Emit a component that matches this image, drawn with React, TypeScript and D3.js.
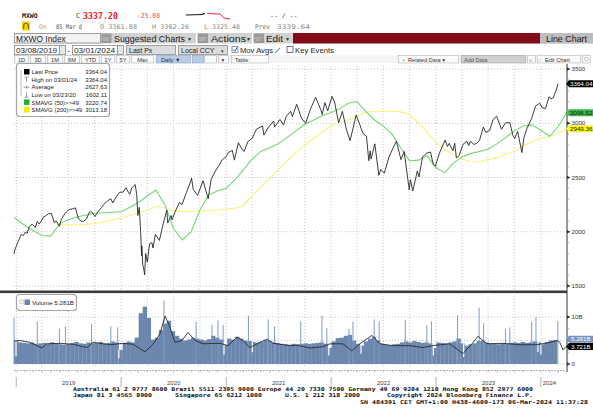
import React from 'react';
import * as d3 from 'd3';

const parse = d3.timeParse('%Y-%m-%d');
const P = (s: string) => parse(s) as Date;

const priceSeries: [string, number][] = [
['2018-12-24',1795],['2018-12-27',1835],['2019-01-03',1880],['2019-01-10',1925],['2019-01-18',1975],['2019-01-25',1965],['2019-02-01',1995],['2019-02-08',1985],['2019-02-15',2045],['2019-02-25',2070],['2019-03-08',2040],['2019-03-15',2095],['2019-03-22',2070],['2019-03-29',2100],['2019-04-05',2135],['2019-04-12',2145],['2019-04-23',2165],['2019-05-03',2170],['2019-05-13',2085],['2019-05-20',2100],['2019-05-31',2050],['2019-06-07',2115],['2019-06-20',2170],['2019-07-03',2205],['2019-07-15',2210],['2019-07-26',2220],['2019-08-05',2120],['2019-08-14',2100],['2019-08-23',2095],['2019-09-03',2120],['2019-09-12',2180],['2019-09-20',2185],['2019-10-02',2140],['2019-10-11',2180],['2019-10-25',2225],['2019-11-04',2260],['2019-11-15',2285],['2019-11-26',2305],['2019-12-03',2265],['2019-12-13',2315],['2019-12-27',2365],['2020-01-08',2365],['2020-01-17',2405],['2020-01-31',2345],['2020-02-07',2405],['2020-02-19',2435],['2020-02-24',2345],['2020-02-28',2150],['2020-03-04',2225],['2020-03-09',1995],['2020-03-12',1780],['2020-03-13',1870],['2020-03-16',1700],['2020-03-18',1680],['2020-03-20',1650],['2020-03-23',1602],['2020-03-26',1800],['2020-04-01',1720],['2020-04-09',1890],['2020-04-17',1900],['2020-04-21',1850],['2020-04-29',1975],['2020-05-13',1920],['2020-05-27',2080],['2020-06-08',2200],['2020-06-11',2080],['2020-06-23',2150],['2020-06-26',2110],['2020-07-08',2190],['2020-07-22',2270],['2020-07-31',2250],['2020-08-12',2340],['2020-08-31',2470],['2020-09-02',2495],['2020-09-08',2390],['2020-09-23',2335],['2020-10-12',2470],['2020-10-30',2305],['2020-11-09',2480],['2020-11-24',2560],['2020-12-04',2600],['2020-12-18',2665],['2020-12-31',2690],['2021-01-08',2730],['2021-01-22',2750],['2021-01-29',2660],['2021-02-12',2820],['2021-02-25',2760],['2021-03-04',2740],['2021-03-17',2830],['2021-04-01',2860],['2021-04-16',2945],['2021-05-07',2975],['2021-05-12',2890],['2021-05-28',2965],['2021-06-15',3020],['2021-06-18',2965],['2021-07-07',3035],['2021-07-19',2985],['2021-07-29',3065],['2021-08-13',3110],['2021-08-19',3060],['2021-09-03',3175],['2021-09-20',3045],['2021-10-04',3000],['2021-10-21',3130],['2021-11-08',3240],['2021-11-26',3125],['2021-12-01',3080],['2021-12-10',3190],['2021-12-20',3115],['2022-01-04',3248],['2022-01-13',3195],['2022-01-27',3005],['2022-02-09',3110],['2022-02-23',2945],['2022-03-08',2840],['2022-03-29',3075],['2022-04-11',2985],['2022-04-22',2905],['2022-05-04',2880],['2022-05-12',2655],['2022-05-17',2745],['2022-05-20',2670],['2022-06-02',2810],['2022-06-16',2520],['2022-06-23',2575],['2022-07-05',2540],['2022-07-22',2695],['2022-08-16',2835],['2022-09-01',2665],['2022-09-12',2740],['2022-09-30',2385],['2022-10-04',2480],['2022-10-12',2375],['2022-10-28',2560],['2022-11-03',2505],['2022-11-15',2690],['2022-11-30',2725],['2022-12-13',2735],['2022-12-22',2625],['2022-12-30',2605],['2023-01-13',2725],['2023-02-02',2845],['2023-02-10',2785],['2023-02-16',2815],['2023-03-01',2745],['2023-03-07',2815],['2023-03-13',2680],['2023-03-23',2705],['2023-04-05',2805],['2023-04-18',2835],['2023-04-25',2795],['2023-05-01',2835],['2023-05-12',2805],['2023-05-23',2815],['2023-06-01',2840],['2023-06-15',2965],['2023-06-23',2915],['2023-07-07',2935],['2023-07-19',3035],['2023-07-31',3065],['2023-08-17',2945],['2023-08-31',3005],['2023-09-15',3005],['2023-09-26',2885],['2023-10-02',2860],['2023-10-12',2925],['2023-10-27',2730],['2023-11-03',2865],['2023-11-14',2955],['2023-11-30',3045],['2023-12-14',3160],['2023-12-28',3185],['2024-01-05',3145],['2024-01-17',3135],['2024-01-30',3245],['2024-02-05',3225],['2024-02-13',3235],['2024-02-22',3295],['2024-03-01',3364.04]
];

const sma50Series: [string, number][] = [
['2018-12-24',2135],['2019-01-01',2115],['2019-02-01',2055],['2019-03-01',2010],['2019-04-01',1965],['2019-05-01',1960],['2019-06-01',2075],['2019-07-01',2110],['2019-08-01',2136],['2019-09-01',2155],['2019-10-01',2170],['2019-11-01',2175],['2019-12-01',2180],['2020-01-01',2185],['2020-02-01',2225],['2020-03-01',2270],['2020-04-01',2330],['2020-05-01',2385],['2020-06-01',2250],['2020-07-01',2030],['2020-08-01',1925],['2020-09-01',2000],['2020-10-01',2200],['2020-11-01',2340],['2020-12-01',2375],['2021-01-01',2400],['2021-02-01',2480],['2021-03-01',2570],['2021-04-01',2670],['2021-05-01',2740],['2021-06-01',2775],['2021-07-01',2810],['2021-08-01',2870],['2021-09-01',2930],['2021-10-01',2990],['2021-11-01',3030],['2021-12-01',3070],['2022-01-01',3100],['2022-02-01',3135],['2022-03-01',3185],['2022-04-01',3200],['2022-05-01',3110],['2022-06-01',3030],['2022-07-01',2975],['2022-08-01',2900],['2022-09-01',2770],['2022-10-01',2655],['2022-11-01',2660],['2022-12-01',2700],['2023-01-01',2590],['2023-02-01',2545],['2023-03-01',2630],['2023-04-01',2690],['2023-05-01',2720],['2023-06-01',2740],['2023-07-01',2760],['2023-08-01',2810],['2023-09-01',2870],['2023-10-01',2930],['2023-11-01',2975],['2023-12-01',2985],['2024-01-01',2935],['2024-02-01',2880],['2024-03-01',2970],['2024-03-31',3096.52]
];

const sma200Series: [string, number][] = [
['2019-05-21',2071],['2019-06-01',2068],['2019-07-01',2065],['2019-08-01',2062],['2019-09-01',2068],['2019-10-01',2076],['2019-11-01',2090],['2019-12-01',2108],['2020-01-01',2125],['2020-02-01',2150],['2020-03-01',2172],['2020-04-01',2200],['2020-05-01',2235],['2020-06-01',2222],['2020-07-01',2195],['2020-08-01',2185],['2020-09-01',2188],['2020-10-01',2191],['2020-11-01',2195],['2020-12-01',2200],['2021-01-01',2210],['2021-02-01',2218],['2021-03-01',2240],['2021-04-01',2330],['2021-05-01',2410],['2021-06-01',2490],['2021-07-01',2570],['2021-08-01',2650],['2021-09-01',2730],['2021-10-01',2800],['2021-11-01',2860],['2021-12-01',2920],['2022-01-01',2975],['2022-02-01',3010],['2022-03-01',3030],['2022-04-01',3065],['2022-05-01',3100],['2022-06-01',3110],['2022-07-01',3112],['2022-08-01',3110],['2022-09-01',3105],['2022-10-01',3080],['2022-11-01',3000],['2022-12-01',2920],['2023-01-01',2820],['2023-02-01',2760],['2023-03-01',2710],['2023-04-01',2670],['2023-05-01',2648],['2023-06-01',2645],['2023-07-01',2665],['2023-08-01',2685],['2023-09-01',2715],['2023-10-01',2740],['2023-11-01',2790],['2023-12-01',2830],['2024-01-01',2860],['2024-02-01',2880],['2024-03-01',2905],['2024-03-31',2949.36]
];

const volumeStart = '2018-12-24';
const volumeBiweekly: number[] = [
4.9,4.6,4.5,4.4,4.6,4.3,4.4,4.5,4.3,4.6,4.4,4.2,4.1,4.3,4.5,4.7,4.4,4.3,4.6,4.4,4.5,4.7,4.4,4.5,4.8,4.6,
3.0,4.5,4.8,4.6,5.6,10.8,12.2,9.8,5.2,5.6,7.2,8.6,9.2,7.0,6.0,5.4,5.0,5.2,5.6,5.4,5.2,5.0,5.3,6.0,5.6,5.2,4.0,
5.4,5.2,5.8,5.4,5.0,4.9,4.7,4.5,4.7,5.1,5.0,4.6,4.5,4.3,4.2,4.1,4.3,4.2,4.3,4.4,4.3,4.4,4.5,4.6,4.3,3.4,
4.8,5.5,5.6,6.0,6.2,5.0,4.3,3.9,4.8,5.4,5.8,5.0,4.3,4.1,4.0,4.2,4.3,4.6,4.8,4.6,4.9,4.7,4.5,4.6,4.4,3.4,
4.6,4.5,4.4,4.6,4.8,5.4,4.4,3.9,4.2,4.4,4.9,5.0,4.6,4.4,4.3,4.2,4.4,4.3,4.5,4.6,4.5,4.7,4.5,4.6,4.8,4.6,
4.2,4.7,5.0,5.1
];

const volumeSpikes: [string, number][] = [
['2018-12-24',9.8],['2019-03-15',9.0],['2019-05-31',7.5],['2019-06-21',8.0],['2019-09-20',8.5],['2019-11-26',8.0],['2019-12-20',7.8],
['2020-05-29',13.5],['2020-09-18',9.0],['2020-11-12',8.3],['2020-12-03',9.3],['2020-12-21',8.3],
['2021-03-19',10.3],['2021-05-27',9.5],['2021-06-18',8.0],['2021-09-17',9.0],['2021-11-30',10.3],['2021-12-17',7.6],
['2022-03-04',7.5],['2022-03-18',9.0],['2022-05-31',9.5],['2022-06-17',9.1],['2022-09-16',9.3],['2022-11-30',8.3],['2022-12-16',9.1],
['2023-03-17',10.3],['2023-05-31',12.0],['2023-06-16',8.7],['2023-08-31',7.4],['2023-09-15',7.8],['2023-11-30',9.0],['2023-12-15',10.0],
['2024-02-29',9.2]
];

const volumeDips: [string, number][] = [
['2018-12-31',1.6],['2019-12-24',1.2],['2020-12-24',2.0],['2021-04-02',2.5],['2021-12-24',1.8],['2022-04-15',2.2],['2022-12-23',1.8],['2023-04-07',1.5],['2023-12-22',2.5],['2024-01-01',2.0]
];

const volumeMA: [string, number][] = [
['2018-12-24',4.9],['2019-01-14',5.0],['2019-02-17',4.6],['2019-03-31',3.4],['2019-04-17',4.3],['2019-06-02',4.4],['2019-07-17',4.2],['2019-09-04',3.5],['2019-09-25',4.6],['2019-11-23',4.1],['2020-01-07',4.4],['2020-02-11',4.2],['2020-03-24',2.6],['2020-04-21',4.2],['2020-05-15',6.4],['2020-06-02',10.2],['2020-06-19',7.8],['2020-07-06',4.6],['2020-07-31',5.0],['2020-08-21',6.7],['2020-09-14',5.0],['2020-10-12',4.3],['2020-12-10',4.4],['2021-01-07',3.9],['2021-02-07',5.7],['2021-02-28',5.0],['2021-03-24',3.5],['2021-04-21',4.4],['2021-05-23',5.3],['2021-06-13',4.4],['2021-07-18',4.1],['2021-08-11',3.9],['2021-09-04',4.0],['2021-10-19',3.4],['2021-12-04',3.7],['2021-12-28',4.3],['2022-02-11',4.3],['2022-03-14',2.8],['2022-04-11',4.3],['2022-05-23',6.1],['2022-06-20',4.3],['2022-08-04',3.9],['2022-10-02',3.9],['2022-11-16',3.5],['2022-12-21',3.9],['2023-02-18',4.3],['2023-04-05',2.2],['2023-05-06',4.3],['2023-05-27',5.9],['2023-06-27',4.3],['2023-08-22',4.4],['2023-10-20',4.1],['2023-12-18',4.1],['2024-02-02',4.6],['2024-02-26',5.0],['2024-03-07',4.6],['2024-03-18',3.0],['2024-03-28',3.721]
];

const priceTicks = [1500, 2000, 2500, 3000, 3500];
const volumeTicks: [number, string][] = [[0, '0'], [10, '10B']];
const yearLabels = ['2019', '2020', '2021', '2022', '2023', '2024'];
const legendNames = ['Last Price', 'High on 03/01/24', 'Average', 'Low on 03/23/20', 'SMAVG (50)>>49', 'SMAVG (200)>>49'];
const legendValues = ['3364.04', '3364.04', '2627.63', '1602.11', '3220.74', '3013.18'];
const rangeButtons = ['1D', '3D', '1M', '6M', 'YTD', '1Y', '5Y', 'Max'];

const C_PRICE = '#262626';
const C_GREEN = '#72d672';
const C_YELLOW = '#f7f37c';
const C_VOL = '#6b87ae';
const mono = "'DejaVu Sans Mono', 'Liberation Mono', monospace";
const sans = "'Liberation Sans', 'DejaVu Sans', sans-serif";

export default function App() {
  const x = d3.scaleTime().domain([P('2018-12-24'), P('2024-04-01')]).range([14, 567]);
  const yP = d3.scaleLinear().domain([1500, 3500]).range([286, 69]);
  const yV = d3.scaleLinear().domain([0, 10]).range([364, 317]);
  const lineP = d3.line<[string, number]>().x(d => x(P(d[0]))).y(d => yP(d[1]));
  const lineV = d3.line<[string, number]>().x(d => x(P(d[0]))).y(d => yV(d[1]));
  const quarters = d3.timeMonth.every(3)!.range(P('2019-01-01'), P('2024-03-02'));
  const months = d3.timeMonth.range(P('2019-01-01'), P('2024-03-31'));
  const vStart = P(volumeStart);
  const bars = volumeBiweekly.map((v, i) => ({
    x0: x(d3.timeDay.offset(vStart, 14 * i)),
    x1: x(d3.timeDay.offset(vStart, 14 * (i + 1))),
    v,
  }));
  const barAt = (d: Date) => {
    const i = Math.max(0, Math.min(volumeBiweekly.length - 1, Math.floor(d3.timeDay.count(vStart, d) / 14)));
    return volumeBiweekly[i];
  };
  const yearStarts = yearLabels.map(y => x(P(`${y}-01-01`)));
  const lastX = x(P('2024-03-01'));
  const minorP = d3.range(1500, 3501, 100);

  const gridStyle = { stroke: '#b8b8b8', strokeWidth: 0.8, strokeDasharray: '1,2' };
  const tag = (y: number) => `M566,${y} L569,${y - 3.5} L593,${y - 3.5} L593,${y + 3.5} L569,${y + 3.5}Z`;

  return (
    <svg width={593} height={409} style={{ position: 'absolute', left: 0, top: 0, background: '#fff' }}>
      <rect width={593} height={409} fill="#fff" />
      {/* Header row 1 */}
      <g fontFamily={mono}>
        <text x={22} y={18} fontSize={6.5} fontWeight="bold" fill="#222">MXWO</text>
        <text x={76} y={18} fontSize={7} fill="#444">C</text>
        <text x={83} y={18.5} fontSize={8} fontWeight="bold" fill="#e8242f" textLength={35} lengthAdjust="spacingAndGlyphs">3337.20</text>
        <text x={137} y={18} fontSize={7} fill="#e8505a" textLength={23} lengthAdjust="spacingAndGlyphs">-25.08</text>
        <path d="M186,15 L203,14.5 L203,13.5 L205,14" stroke="#111" strokeWidth={1} fill="none" />
        <path d="M207,13.5 L220,14 L224,18 L230,19" stroke="#e0303a" strokeWidth={1} fill="none" />
        <text x={270} y={18} fontSize={6.5} fill="#333">-- / --</text>
        {/* row 2 */}
        <rect x={22} y={21.5} width={8} height={9} fill="#f2d700" />
        <path d="M23.5,29 L24,24 L26,23 L28,24 L28.5,29" stroke="#7a4a00" strokeWidth={1} fill="none" />
        <text x={39} y={29} fontSize={6.5} fill="#d8a400">On</text>
        <text x={56} y={29} fontSize={6.5} fill="#555" textLength={26} lengthAdjust="spacingAndGlyphs">05 Mar d</text>
        <text x={100} y={29} fontSize={6.5} fill="#8a8a8a" textLength={37} lengthAdjust="spacingAndGlyphs">O 3361.88</text>
        <text x={152} y={29} fontSize={6.5} fill="#8a8a8a" textLength={37} lengthAdjust="spacingAndGlyphs">H 3362.26</text>
        <text x={204} y={29} fontSize={6.5} fill="#8a8a8a" textLength={36} lengthAdjust="spacingAndGlyphs">L 3325.40</text>
        <text x={255} y={29} fontSize={6.5} fill="#8a6a1a" textLength={15} lengthAdjust="spacingAndGlyphs">Prev</text>
        <text x={277} y={29} fontSize={6.5} fill="#8a8a8a" textLength={33} lengthAdjust="spacingAndGlyphs">3339.64</text>
      </g>
      {/* Header row 3 toolbar */}
      <g fontFamily={sans}>
        <rect x={14} y={33} width={579} height={10.5} fill="#d2d2d2" />
        <rect x={14.5} y={33.5} width={86} height={9.5} fill="#f4f4f4" stroke="#8c8c8c" strokeWidth={0.8} />
        <text x={16} y={41.5} fontSize={8.4} fill="#1a1a1a">MXWO Index</text>
        <rect x={101.5} y={33.5} width={10} height={9.5} fill="#9a9a9a" />
        <text x={102.5} y={41} fontSize={6} fill="#c9c9c9">96</text>
        <text x={114} y={41.5} fontSize={8.4} fill="#1a1a1a" textLength={71} lengthAdjust="spacingAndGlyphs">Suggested Charts</text>
        <text x={188} y={41} fontSize={6} fill="#333">▾</text>
        <line x1={196.5} y1={33} x2={196.5} y2={43.5} stroke="#fff" />
        <rect x={198} y={33.5} width={10} height={9.5} fill="#9a9a9a" />
        <text x={199} y={41} fontSize={6} fill="#c9c9c9">98</text>
        <text x={211} y={41.5} fontSize={8.4} fill="#1a1a1a" textLength={35} lengthAdjust="spacingAndGlyphs">Actions</text>
        <text x={247} y={41} fontSize={6} fill="#333">▾</text>
        <line x1={252.5} y1={33} x2={252.5} y2={43.5} stroke="#fff" />
        <rect x={254} y={33.5} width={10} height={9.5} fill="#9a9a9a" />
        <text x={255} y={41} fontSize={6} fill="#c9c9c9">97</text>
        <text x={266} y={41.5} fontSize={8.4} fill="#1a1a1a" textLength={17} lengthAdjust="spacingAndGlyphs">Edit</text>
        <text x={286} y={41} fontSize={6} fill="#333">▾</text>
        <rect x={293} y={33} width={247} height={10.5} fill="#820b18" />
        <rect x={540} y={33} width={53} height={10.5} fill="#bdbdbd" />
        <text x={546} y={41.5} fontSize={8.4} fill="#1a1a1a" textLength={41} lengthAdjust="spacingAndGlyphs">Line Chart</text>
      </g>
      {/* Header row 4 */}
      <g fontFamily={sans} fontSize={7}>
        <rect x={14.5} y={45.5} width={45} height={9} fill="#fff" stroke="#8c8c8c" strokeWidth={0.8} />
        <text x={16} y={53} fill="#222" textLength={41} lengthAdjust="spacingAndGlyphs">03/08/2019</text>
        <rect x={59.5} y={45.5} width={6} height={9} fill="#e6e6e6" stroke="#8c8c8c" strokeWidth={0.8} />
        <text x={67.5} y={53} fill="#222">-</text>
        <rect x={72.5} y={45.5} width={45} height={9} fill="#fff" stroke="#8c8c8c" strokeWidth={0.8} />
        <text x={74} y={53} fill="#222" textLength={41} lengthAdjust="spacingAndGlyphs">03/01/2024</text>
        <rect x={117.5} y={45.5} width={6} height={9} fill="#e6e6e6" stroke="#8c8c8c" strokeWidth={0.8} />
        <rect x={126.5} y={45.5} width={49} height={9} fill="#dcdcdc" stroke="#8c8c8c" strokeWidth={0.8} />
        <text x={129} y={53} fill="#222">Last Px</text>
        <rect x={178.5} y={45.5} width={49} height={9} fill="#dcdcdc" stroke="#8c8c8c" strokeWidth={0.8} />
        <text x={181} y={53} fill="#222">Local CCY</text>
        <text x={221} y={52.5} fontSize={5} fill="#333">▾</text>
        <rect x={232} y={46.5} width={6} height={6} fill="#fff" stroke="#6a7fa8" strokeWidth={0.8} />
        <path d="M233,49.5 L234.8,51.3 L237.3,47.3" stroke="#2a58b0" strokeWidth={1} fill="none" />
        <text x={240} y={53} fill="#222" textLength={33} lengthAdjust="spacingAndGlyphs">Mov Avgs</text>
        <path d="M275,53 L280,48" stroke="#999" strokeWidth={1.2} />
        <rect x={287} y={46.5} width={6} height={6} fill="#fff" stroke="#555" strokeWidth={0.8} />
        <text x={295} y={53} fill="#222" textLength={39} lengthAdjust="spacingAndGlyphs">Key Events</text>
      </g>
      {/* Header row 5 */}
      <g fontFamily={sans} fontSize={5.6}>
        <rect x={14} y={55.5} width={577} height={7.5} fill="#f4f4f4" />
        {rangeButtons.map((b, i) => {
          const bx = [14, 30, 47, 64, 81, 101, 116, 131][i];
          const bw = [14, 15, 15, 15, 18, 13, 13, 22][i];
          return (
            <g key={b}>
              <rect x={bx + 0.5} y={55.5} width={bw} height={7.5} fill="#fafafa" stroke="#b5b5b5" strokeWidth={0.6} />
              <text x={bx + bw / 2 + 0.5} y={61.5} textAnchor="middle" fill="#333">{b}</text>
            </g>
          );
        })}
        <rect x={156.5} y={55.5} width={34} height={7.5} fill="#b9cbe6" stroke="#8aa0c8" strokeWidth={0.6} />
        <text x={161} y={61.5} fill="#333">Daily ▼</text>
        <rect x={192.5} y={55.5} width={11} height={7.5} fill="#b9cbe6" stroke="#8aa0c8" strokeWidth={0.6} />
        <rect x={204.5} y={55.5} width={12} height={7.5} fill="#fafafa" stroke="#b5b5b5" strokeWidth={0.6} />
        <rect x={218.5} y={55.5} width={10} height={7.5} fill="#fafafa" stroke="#b5b5b5" strokeWidth={0.6} />
        <text x={221.5} y={61.5} fill="#333">▾</text>
        <rect x={231.5} y={55.5} width={37} height={7.5} fill="#fafafa" stroke="#b5b5b5" strokeWidth={0.6} />
        <text x={235} y={61.5} fill="#333">Table</text>
        <rect x={398.5} y={55.5} width={60} height={7.5} fill="#fafafa" stroke="#b5b5b5" strokeWidth={0.6} />
        <text x={402} y={61.5} fill="#999">+</text>
        <text x={408} y={61.5} fill="#333">Related Data ▾</text>
        <rect x={461.5} y={55.5} width={64} height={7.5} fill="#cfcfcf" stroke="#9a9a9a" strokeWidth={0.6} />
        <text x={464} y={61.5} fill="#555">Add Data</text>
        <rect x={527.5} y={55.5} width={8} height={7.5} fill="#fafafa" stroke="#b5b5b5" strokeWidth={0.6} />
        <text x={529} y={61.5} fill="#999">«</text>
        <rect x={537.5} y={55.5} width={43} height={7.5} fill="#fafafa" stroke="#b5b5b5" strokeWidth={0.6} />
        <text x={540} y={61.5} fill="#999">⁄</text>
        <text x={545} y={61.5} fill="#333">Edit Chart</text>
        <rect x={582.5} y={55.5} width={8} height={7.5} fill="#fafafa" stroke="#b5b5b5" strokeWidth={0.6} />
        <circle cx={586.5} cy={59.2} r={2} fill="none" stroke="#bbb" strokeWidth={0.8} />
      </g>

      {/* Price panel grid */}
      <g>
        {priceTicks.map(t => (
          <line key={t} x1={14} x2={567} y1={yP(t)} y2={yP(t)} {...gridStyle} />
        ))}
        {quarters.map(q => (
          <line key={+q} x1={x(q)} x2={x(q)} y1={66} y2={290} {...gridStyle} />
        ))}
      </g>
      {/* Moving averages & price */}
      <path d={lineP(sma200Series)!} fill="none" stroke={C_YELLOW} strokeWidth={1.1} />
      <path d={lineP(sma50Series)!} fill="none" stroke={C_GREEN} strokeWidth={1.1} />
      <path d={lineP(priceSeries)!} fill="none" stroke={C_PRICE} strokeWidth={0.9} strokeLinejoin="round" />

      {/* Price legend */}
      <g fontFamily={sans} fontSize={6}>
        <rect x={16.5} y={63.5} width={93} height={53} rx={3} fill="#fff" stroke="#a5a5a5" strokeWidth={1.2} />
        <line x1={21} x2={21} y1={70} y2={96} stroke="#aaa" strokeWidth={0.8} />
        {legendNames.map((n, i) => {
          const cy = 72 + i * 7.6;
          return (
            <g key={n}>
              {i === 0 && <rect x={24} y={cy - 3} width={5.5} height={5.5} fill="#000" />}
              {i === 1 && <path d={`M24.5,${cy - 2.5} L28.5,${cy - 2.5} M26.5,${cy - 2.5} L26.5,${cy + 2.5}`} stroke="#888" strokeWidth={0.8} />}
              {i === 2 && <path d={`M23.5,${cy} L29.5,${cy} M26.5,${cy - 1.5} L26.5,${cy + 1.5}`} stroke="#888" strokeWidth={0.8} />}
              {i === 3 && <path d={`M24.5,${cy + 2.5} L28.5,${cy + 2.5} M26.5,${cy - 2.5} L26.5,${cy + 2.5}`} stroke="#888" strokeWidth={0.8} />}
              {i === 4 && <rect x={24} y={cy - 3} width={5.5} height={5.5} fill="#22b22a" />}
              {i === 5 && <rect x={24} y={cy - 3} width={5.5} height={5.5} fill="#f3ee00" />}
              <text x={31.5} y={cy + 2.2} fill="#222">{n}</text>
              <text x={107} y={cy + 2.2} fill="#222" textAnchor="end">{legendValues[i]}</text>
            </g>
          );
        })}
      </g>

      {/* panel separator */}
      <rect x={0} y={290.5} width={567} height={2.6} fill="#3a3a3a" />

      {/* Volume grid */}
      <g>
        {[0, 5, 10].map(t => (
          <line key={t} x1={14} x2={567} y1={yV(t)} y2={yV(t)} {...gridStyle} />
        ))}
        {quarters.map(q => (
          <line key={+q} x1={x(q)} x2={x(q)} y1={296} y2={368} {...gridStyle} />
        ))}
      </g>
      {/* Volume bars */}
      <g>
        {bars.map((b, i) => (
          <rect key={i} x={b.x0} y={yV(b.v)} width={b.x1 - b.x0 + 0.25} height={yV(0) - yV(b.v)} fill={C_VOL} />
        ))}
        {volumeSpikes.map(([d, v]) => (
          <rect key={d} x={x(P(d)) - 0.5} y={yV(v)} width={1} height={yV(0) - yV(v)} fill="#809bc2" />
        ))}
        {volumeDips.map(([d, v]) => {
          const top = yV(barAt(P(d)));
          return <rect key={d} x={x(P(d)) - 0.6} y={top} width={1.2} height={yV(v) - top} fill="#fff" />;
        })}
      </g>
      <path d={lineV(volumeMA)!} fill="none" stroke="#2a2a2a" strokeWidth={0.9} />

      {/* Volume legend */}
      <g fontFamily={sans} fontSize={6.2}>
        <rect x={16.5} y={294.5} width={60} height={16} rx={3} fill="#fff" stroke="#a5a5a5" strokeWidth={1.2} />
        <rect x={20} y={300} width={3.5} height={3.5} fill="none" stroke="#aaa" strokeWidth={0.6} />
        <rect x={24.5} y={299.5} width={5.5} height={5.5} fill={C_VOL} />
        <text x={32} y={304.5} fill="#222">Volume  5.281B</text>
      </g>

      {/* Right axis */}
      <g fontFamily={sans} fontSize={6.2} fill="#333">
        <line x1={567} x2={567} y1={64} y2={372} stroke="#333" strokeWidth={1} />
        {minorP.map(t => (
          <line key={t} x1={567} x2={569} y1={yP(t)} y2={yP(t)} stroke="#777" strokeWidth={0.6} />
        ))}
        {priceTicks.map(t => (
          <g key={t}>
            <path d={`M567,${yP(t) - 1.8} L570.5,${yP(t)} L567,${yP(t) + 1.8}Z`} fill="#333" />
            <text x={571.5} y={yP(t) + 2.2}>{t}</text>
          </g>
        ))}
        {[2.5, 5, 7.5].map(t => (
          <line key={t} x1={567} x2={569} y1={yV(t)} y2={yV(t)} stroke="#777" strokeWidth={0.6} />
        ))}
        {volumeTicks.map(([t, l]) => (
          <g key={l}>
            <path d={`M567,${yV(t) - 1.8} L570.5,${yV(t)} L567,${yV(t) + 1.8}Z`} fill="#333" />
            <text x={571.5} y={yV(t) + 2.2}>{l}</text>
          </g>
        ))}
      </g>
      {/* Right value tags */}
      <g fontFamily={sans} fontSize={6.2}>
        <path d={tag(yP(3364.04))} fill="#000" />
        <text x={570} y={yP(3364.04) + 2.3} fill="#fff">3364.04</text>
        <path d={tag(yP(3096.52))} fill="#3cba48" />
        <text x={570} y={yP(3096.52) + 2.3} fill="#111">3096.52</text>
        <path d={tag(yP(2949.36))} fill="#fafa1e" />
        <text x={570} y={yP(2949.36) + 2.3} fill="#111">2949.36</text>
        <path d={tag(yV(5.281))} fill="#7593be" />
        <text x={571} y={yV(5.281) + 2.3} fill="#fff">5.281B</text>
        <path d={tag(yV(3.721))} fill="#000" />
        <text x={571} y={yV(3.721) + 2.3} fill="#fff">3.721B</text>
      </g>

      {/* Bottom time axis */}
      <g>
        <line x1={14} x2={567} y1={370.5} y2={370.5} stroke="#9a9a9a" strokeWidth={0.8} strokeDasharray="2,1" />
        {months.map(m => (
          <line key={+m} x1={x(m)} x2={x(m)} y1={370.5} y2={372.5} stroke="#999" strokeWidth={0.6} />
        ))}
        {yearStarts.map((ys, i) => (
          <line key={i} x1={ys} x2={ys} y1={377} y2={387} stroke="#c4c4c4" strokeWidth={1.3} />
        ))}
        {yearLabels.map((yl, i) => {
          const a = yearStarts[i];
          const b = i < yearLabels.length - 1 ? yearStarts[i + 1] : lastX;
          return (
            <text key={yl} x={(a + b) / 2} y={385} textAnchor="middle" fontFamily={sans} fontSize={6} fill="#444">{yl}</text>
          );
        })}
      </g>

      {/* Footer */}
      <g fontFamily={mono} fontSize={5.3} fill="#111" fontWeight="bold">
        <text x={73} y={391} textLength={460} lengthAdjust="spacingAndGlyphs">Australia 61 2 9777 8600 Brazil 5511 2395 9000 Europe 44 20 7330 7500 Germany 49 69 9204 1210 Hong Kong 852 2977 6000</text>
        <text x={73} y={397.3} textLength={79} lengthAdjust="spacingAndGlyphs">Japan 81 3 4565 8900</text>
        <text x={175} y={397.3} textLength={87} lengthAdjust="spacingAndGlyphs">Singapore 65 6212 1000</text>
        <text x={285} y={397.3} textLength={75} lengthAdjust="spacingAndGlyphs">U.S. 1 212 318 2000</text>
        <text x={387} y={397.3} textLength={146} lengthAdjust="spacingAndGlyphs">Copyright 2024 Bloomberg Finance L.P.</text>
        <text x={360} y={403.6} textLength={228} lengthAdjust="spacingAndGlyphs">SN 484391 CET  GMT+1:00 H438-4609-173 06-Mar-2024 11:37:28</text>
      </g>
    </svg>
  );
}
